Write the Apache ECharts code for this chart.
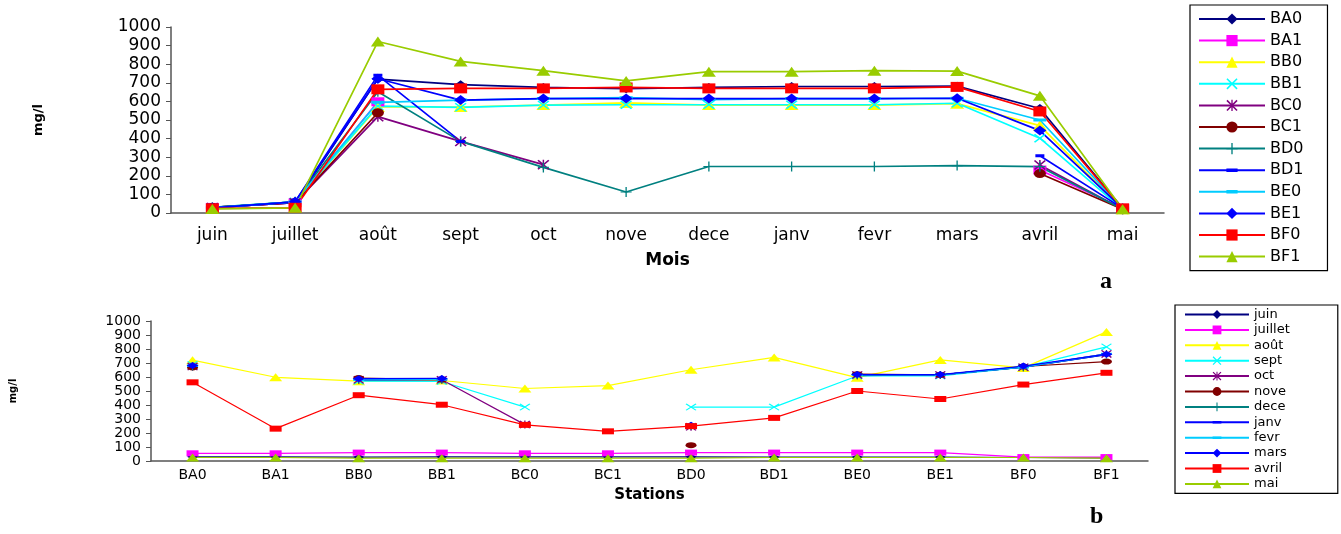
<!DOCTYPE html>
<html>
<head>
<meta charset="utf-8">
<title>mg/l par mois et par station</title>
<script src="https://cdn.jsdelivr.net/npm/echarts@6/dist/echarts.min.js"></script>
<style>
  html, body { margin: 0; padding: 0; background: #fff; }
  #chart { width: 1341px; height: 534px; }
</style>
</head>
<body>
<div id="chart"></div>
<script>
// categories
var months = ['juin', 'juillet', 'août', 'sept', 'oct', 'nove', 'dece', 'janv', 'fevr', 'mars', 'avril', 'mai']
var stations = ['BA0', 'BA1', 'BB0', 'BB1', 'BC0', 'BC1', 'BD0', 'BD1', 'BE0', 'BE1', 'BF0', 'BF1']
var yTicks = [0, 100, 200, 300, 400, 500, 600, 700, 800, 900, 1000]

// values per station, one per month (null = no sample)
var BA0 = [30, 55, 720, 690, 675, 668, 675, 680, 680, 682, 562, 25]
var BA1 = [30, 55, 598, null, null, null, null, null, null, null, 231, 25]
var BB0 = [28, 60, 570, 570, 580, 592, 580, 580, 580, 588, 470, 20]
var BB1 = [30, 60, 575, 568, 580, 582, 582, 582, 582, 590, 402, 20]
var BC0 = [30, 55, 518, 385, 260, null, null, null, null, null, 258, 20]
var BC1 = [30, 55, 539, null, null, null, null, null, null, null, 212, 20]
var BD0 = [30, 60, 652, 385, 245, 113, 250, 250, 250, 255, 249, 20]
var BD1 = [28, 60, 740, 385, null, null, null, null, null, null, 308, 25]
var BE0 = [28, 60, 595, 607, 615, 620, 610, 615, 615, 617, 500, 25]
var BE1 = [28, 60, 722, 607, 615, 615, 615, 615, 615, 617, 443, 25]
var BF0 = [25, 28, 665, 670, 670, 675, 670, 670, 670, 678, 546, 25]
var BF1 = [22, 28, 922, 815, 765, 710, 760, 760, 765, 763, 630, 20]

var stationData = [BA0, BA1, BB0, BB1, BC0, BC1, BD0, BD1, BE0, BE1, BF0, BF1]

var colors = ['#000080', '#FF00FF', '#FFFF00', '#00FFFF', '#800080', '#800000',
  '#008080', '#0000FF', '#00CCFF', '#0000FF', '#FF0000', '#99CC00']

var X_PATH = 'path://M0,1L1,0L10,9L9,10ZM9,0L10,1L1,10L0,9Z'
var STAR_PATH = X_PATH + 'M4.4,0L5.6,0L5.6,10L4.4,10Z'
var PLUS_PATH = 'path://M4.4,0L5.6,0L5.6,4.4L10,4.4L10,5.6L5.6,5.6L5.6,10L4.4,10L4.4,5.6L0,5.6L0,4.4L4.4,4.4Z'
// flat dash, padded with empty points so the box stays square (legend too)
var DASH_PATH = 'path://M0,3.5L10,3.5L10,6.5L0,6.5ZM5,0L5.001,0L5,0.001ZM5,10L5.001,10L5,9.999Z'

var symbols = ['diamond', 'rect', 'triangle', X_PATH, STAR_PATH, 'circle',
  PLUS_PATH, DASH_PATH, DASH_PATH, 'diamond', 'rect', 'triangle']
var sizesTop = [[12, 9], [13, 9], [14, 10], [12, 9], [12, 10], [12, 9],
  [11, 10], [9, 10], [13, 10], [13, 10], [13, 10], [14, 10]]
var sizesBottom = [[11, 6], [12, 6], [13, 8], [11, 7], [11, 8], [11, 6],
  [9, 8], [8, 8], [11, 8], [12, 7], [12, 6], [13, 8]]

var FONT = 'DejaVu Sans'

var series = []
stations.forEach(function(name, i) {
  series.push({
    name: name,
    type: 'line',
    xAxisIndex: 0,
    yAxisIndex: 0,
    data: stationData[i],
    symbol: symbols[i],
    symbolSize: sizesTop[i],
    showAllSymbol: true,
    color: colors[i],
    lineStyle: { width: 1.7 },
    connectNulls: false
  })
})
months.forEach(function(name, m) {
  series.push({
    name: name,
    type: 'line',
    xAxisIndex: 1,
    yAxisIndex: 1,
    data: stationData.map(function(row) { return row[m] }),
    symbol: symbols[m],
    symbolSize: sizesBottom[m],
    showAllSymbol: true,
    color: colors[m],
    lineStyle: { width: 1.2 },
    connectNulls: false
  })
})

var axisLine = { lineStyle: { color: '#555', width: 1.5 } }
var plain = function(v) { return String(v) }

var chart = echarts.init(document.getElementById('chart'))
chart.setOption({
  animation: false,
  backgroundColor: '#fff',
  grid: [
    { left: 171, right: 177, top: 27, bottom: 321 },
    { left: 150, right: 193, top: 321, bottom: 73 }
  ],
  xAxis: [{
    gridIndex: 0,
    type: 'category',
    data: months,
    name: 'Mois',
    nameLocation: 'middle',
    nameGap: 39,
    nameTextStyle: { fontFamily: FONT, fontSize: 17, fontWeight: 'bold', color: '#000' },
    axisLine: axisLine,
    axisTick: { length: 6, lineStyle: { color: '#555' } },
    axisLabel: { fontFamily: FONT, fontSize: 17, color: '#000', margin: 14 }
  }, {
    gridIndex: 1,
    type: 'category',
    data: stations,
    name: 'Stations',
    nameLocation: 'middle',
    nameGap: 27,
    nameTextStyle: { fontFamily: FONT, fontSize: 15, fontWeight: 'bold', color: '#000' },
    axisLine: axisLine,
    axisTick: { length: 5, lineStyle: { color: '#555' } },
    axisLabel: { fontFamily: FONT, fontSize: 14, color: '#000', margin: 7 }
  }],
  yAxis: [{
    gridIndex: 0,
    type: 'value',
    min: yTicks[0],
    max: yTicks[yTicks.length - 1],
    interval: yTicks[1] - yTicks[0],
    name: 'mg/l',
    nameLocation: 'middle',
    nameRotate: 90,
    nameGap: 126,
    nameTextStyle: { fontFamily: FONT, fontSize: 13, fontWeight: 'bold', color: '#000' },
    splitLine: { show: false },
    axisLine: { show: true, lineStyle: { color: '#555', width: 1.5 } },
    axisTick: { show: true, length: 5, lineStyle: { color: '#555' } },
    axisLabel: { fontFamily: FONT, fontSize: 17, color: '#000', margin: 10, formatter: plain }
  }, {
    gridIndex: 1,
    type: 'value',
    min: yTicks[0],
    max: yTicks[yTicks.length - 1],
    interval: yTicks[1] - yTicks[0],
    name: 'mg/l',
    nameLocation: 'middle',
    nameRotate: 90,
    nameGap: 133,
    nameTextStyle: { fontFamily: FONT, fontSize: 10, fontWeight: 'bold', color: '#000' },
    splitLine: { show: false },
    axisLine: { show: true, lineStyle: { color: '#555', width: 1.5 } },
    axisTick: { show: true, length: 5, lineStyle: { color: '#555' } },
    axisLabel: { fontFamily: FONT, fontSize: 14, color: '#000', margin: 10, formatter: plain }
  }],
  legend: [{
    data: stations,
    orient: 'vertical',
    left: 1190,
    top: 5,
    padding: [6, 24, 6, 8],
    itemGap: 5.6,
    itemWidth: 66,
    itemHeight: 14,
    borderColor: '#000',
    borderWidth: 1.2,
    textStyle: { fontFamily: FONT, fontSize: 16, color: '#000' }
  }, {
    data: months,
    orient: 'vertical',
    left: 1175,
    top: 305,
    padding: [3, 48, 3, 9],
    itemGap: 2.4,
    itemWidth: 64,
    itemHeight: 11,
    borderColor: '#000',
    borderWidth: 1.2,
    textStyle: { fontFamily: FONT, fontSize: 13, color: '#000' }
  }],
  graphic: [{
    type: 'text',
    left: 1100,
    top: 270,
    style: { text: 'a', font: 'bold 24px "Liberation Serif"', fill: '#000' }
  }, {
    type: 'text',
    left: 1090,
    top: 505,
    style: { text: 'b', font: 'bold 24px "Liberation Serif"', fill: '#000' }
  }],
  series: series
})
</script>
</body>
</html>
